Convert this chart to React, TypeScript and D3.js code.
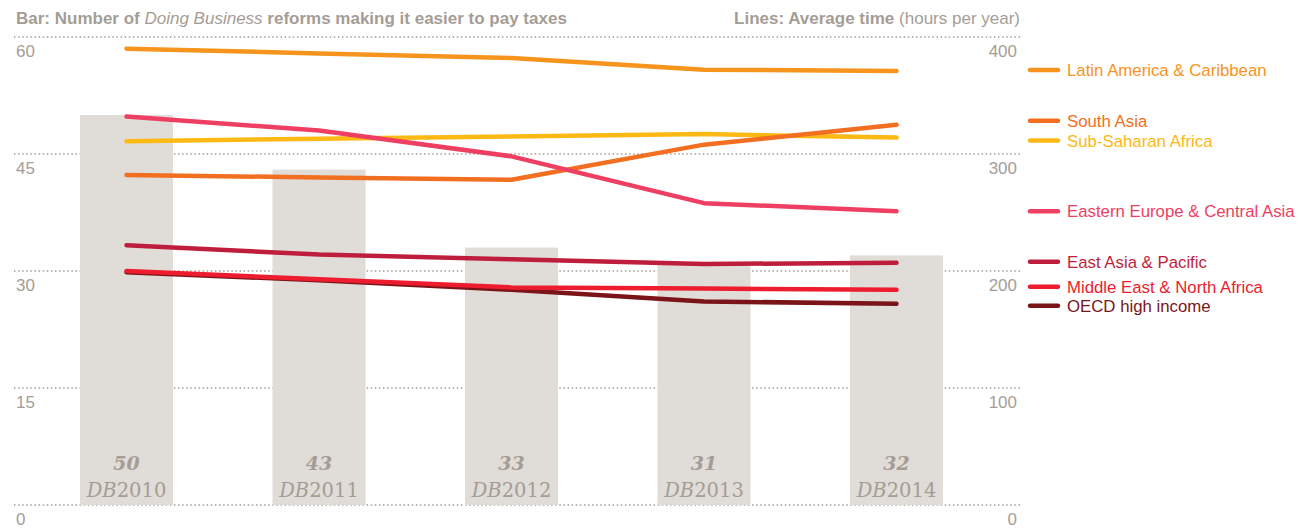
import * as d3 from "d3";
import { useEffect, ReactElement } from "react";

// bars: number of reforms
const years = ["2010", "2011", "2012", "2013", "2014"];
const reforms = [50, 43, 33, 31, 32];

// lines: average time (hours per year)
const latinAmerica = [390, 386, 382, 372, 371];
const southAsia = [282, 280, 278, 308, 325];
const subSaharan = [311, 313, 315, 317, 314];
const easternEurope = [332, 320, 298, 258, 251];
const eastAsia = [222, 214, 210, 206, 207];
const middleEast = [200, 193, 186, 185, 184];
const oecd = [199, 192, 184, 174, 172];

const leftTicks = [0, 15, 30, 45, 60];
const rightTicks = [0, 100, 200, 300, 400];

const series = [
    { name: "Latin America & Caribbean", values: latinAmerica, color: "#f7941d", dy: -1 },
    { name: "South Asia", values: southAsia, color: "#f26f21", dy: -4 },
    { name: "Sub-Saharan Africa", values: subSaharan, color: "#fdb913", dy: 3 },
    { name: "Eastern Europe & Central Asia", values: easternEurope, color: "#ee3f62", dy: 0 },
    { name: "East Asia & Pacific", values: eastAsia, color: "#be1e3c", dy: -1 },
    { name: "Middle East & North Africa", values: middleEast, color: "#ed1c2e", dy: -3 },
    { name: "OECD high income", values: oecd, color: "#7b1419", dy: 2 },
];

const width = 1306;
const height = 529;
const gray = "#a59d95";
const sans = "'Liberation Sans', Arial, sans-serif";
const serif = "'DejaVu Serif', 'Liberation Serif', serif";

const App = (): ReactElement => {
    useEffect(() => {
        document.body.style.margin = "0";
    }, []);

    const x = d3.scalePoint<string>().domain(years).range([126.5, 896.5]);
    const yLeft = d3.scaleLinear().domain([0, 60]).range([505, 37]);
    const yRight = d3.scaleLinear().domain([0, 400]).range([505, 37]);
    const barWidth = 93;

    const line = d3.line<number>()
        .x((_, i) => x(years[i])!)
        .y((d) => yRight(d));

    // OECD sits under Middle East except the first segment
    const drawOrder = [0, 2, 1, 3, 4, 6, 5];

    return (
        <svg width={width} height={height} style={{ display: "block" }} fontFamily={sans}>
            {/* titles */}
            <text x={16} y={24} fontSize={17} fill={gray} fontWeight="bold">
                Bar: Number of <tspan fontStyle="italic" fontWeight="normal">Doing Business</tspan> reforms making it easier to pay taxes
            </text>
            <text x={1020} y={24} fontSize={17} fill={gray} textAnchor="end" fontWeight="bold">
                Lines: Average time <tspan fontWeight="normal">(hours per year)</tspan>
            </text>

            {/* grid */}
            {leftTicks.map((t) => (
                <line key={"g" + t} x1={14} x2={1020} y1={yLeft(t)} y2={yLeft(t)}
                    stroke={gray} strokeWidth={1.6} strokeDasharray="1.5,2.6" />
            ))}

            {/* bars */}
            {reforms.map((v, i) => (
                <g key={"b" + i}>
                    <rect x={x(years[i])! - barWidth / 2} y={yLeft(v)} width={barWidth}
                        height={yLeft(0) - yLeft(v)} fill="#e0dcd7" />
                    <text x={x(years[i])!} y={470} textAnchor="middle" fontFamily={serif}
                        fontSize={19} fontWeight="bold" fontStyle="italic" fill={gray}>{v}</text>
                    <text x={x(years[i])!} y={497} textAnchor="middle" fontFamily={serif}
                        fontSize={19.5} fill={gray}>
                        <tspan fontStyle="italic">DB</tspan>{years[i]}
                    </text>
                </g>
            ))}

            {/* tick labels */}
            {leftTicks.map((t) => (
                <text key={"l" + t} x={16} y={yLeft(t) + 20} fontSize={17} fill={gray}>{t}</text>
            ))}
            {rightTicks.map((t) => (
                <text key={"r" + t} x={1017} y={yRight(t) + 20} fontSize={17} fill={gray}
                    textAnchor="end">{t}</text>
            ))}

            {/* lines */}
            {drawOrder.map((k) => {
                const s = series[k];
                return (
                    <path key={s.name} d={line(s.values)!} fill="none" stroke={s.color}
                        strokeWidth={4.5} strokeLinecap="round" strokeLinejoin="round" />
                );
            })}

            {/* legend */}
            {series.map((s) => {
                const ly = yRight(s.values[s.values.length - 1]) + s.dy;
                return (
                    <g key={"lg" + s.name}>
                        <line x1={1030} x2={1058} y1={ly} y2={ly} stroke={s.color}
                            strokeWidth={4.5} strokeLinecap="round" />
                        <text x={1067} y={ly} dy="0.35em" fontSize={16.8} fill={s.color}>{s.name}</text>
                    </g>
                );
            })}
        </svg>
    );
};

export default App;
